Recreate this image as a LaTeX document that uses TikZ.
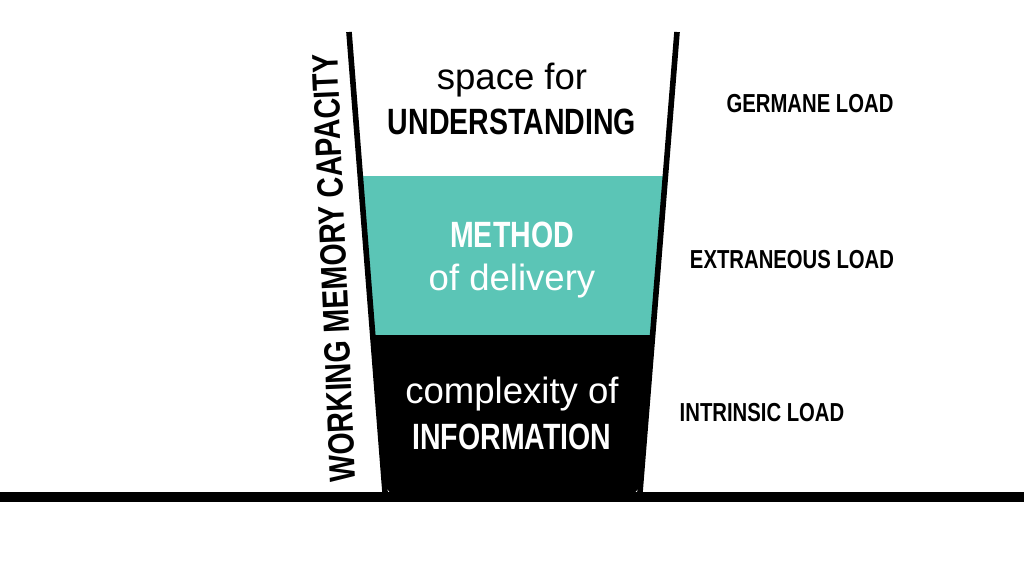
\documentclass[tikz,border=0pt]{standalone}
\usepackage{fontspec}
\setmainfont{Liberation Sans}
\newfontfamily\cond[FakeStretch=0.78]{Liberation Sans}
\definecolor{teal}{HTML}{5BC5B6}
\tikzset{
  big/.style={font=\fontsize{26}{28}\selectfont},
  bigbold/.style={font=\cond\bfseries\fontsize{26}{28}\selectfont},
  load/.style={font=\cond\bfseries\fontsize{18.5}{20}\selectfont},
}
\begin{document}
\begin{tikzpicture}[x=0.025cm,y=-0.025cm]
\useasboundingbox (0,0) rectangle (1024,575);

% layers of the cup
\fill[teal] (360,176) -- (665,176) -- (652.5,335) -- (372.8,335) -- cycle;
\fill[black] (372.8,335) -- (652.5,335) -- (641,480) to[out=-95,in=0] (625,496)
  -- (400,496) to[out=180,in=-85] (384,480) -- cycle;

% walls and table
\draw[line width=4pt] (349,32) -- (385,492);
\draw[line width=4pt] (677,32) -- (640,492);
\fill[black] (0,492) rectangle (1024,502);

\node[big] (space) at (512,80) {space for};
\node[bigbold] (under) at (512,122) {UNDERSTANDING};
\node[bigbold,white] (method) at (512,235) {METHOD};
\node[big,white] (deliv) at (512,281) {of delivery};
\node[big,white] (compl) at (512,394) {complexity of};
\node[bigbold,white] (info) at (512,437) {INFORMATION};

\node[load] (germ) at (810,104) {GERMANE LOAD};
\node[load] (extr) at (792,260) {EXTRANEOUS LOAD};
\node[load] (intr) at (762,413) {INTRINSIC LOAD};

\node[font=\cond\bfseries\fontsize{26}{28}\selectfont,rotate=92.5] (wmc) at (334,268) {WORKING MEMORY CAPACITY};
\end{tikzpicture}
\end{document}
